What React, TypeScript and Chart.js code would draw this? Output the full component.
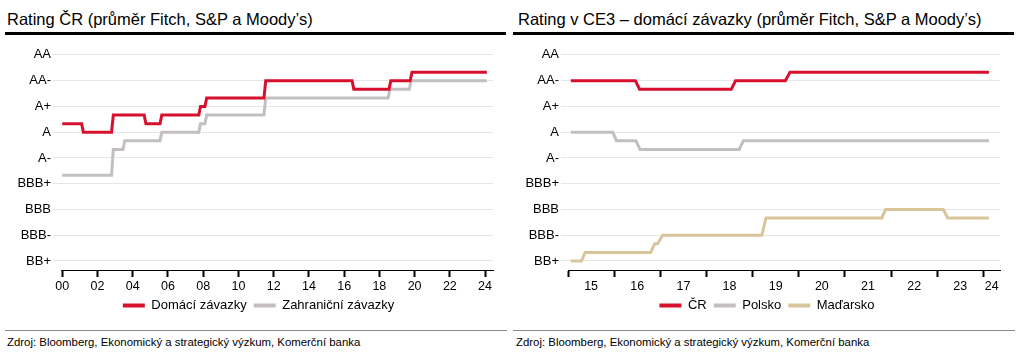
import React, { useEffect, useRef } from 'react';
import { Chart, registerables } from 'chart.js';

Chart.register(...registerables);

const FONT = '"Liberation Sans", Arial, Helvetica, sans-serif';

// Rating scale (average of Fitch, S&P and Moody's)
const ratingValues = [1, 2, 3, 4, 5, 6, 7, 8, 9];
const ratingLabels = ['BB+', 'BBB-', 'BBB', 'BBB+', 'A-', 'A', 'A+', 'AA-', 'AA'];

// Left chart: Rating ČR
const leftTickYears = [2000, 2002, 2004, 2006, 2008, 2010, 2012, 2014, 2016, 2018, 2020, 2022, 2024];
const leftTickLabels = ['00', '02', '04', '06', '08', '10', '12', '14', '16', '18', '20', '22', '24'];
const leftSeriesNames = ['Domácí závazky', 'Zahraniční závazky'];

const domaciZavazky: [number, number][] = [
  [2000.0, 6.33], [2001.1, 6.33], [2001.2, 6.0], [2002.8, 6.0], [2002.9, 6.67],
  [2004.65, 6.67], [2004.75, 6.33], [2005.55, 6.33], [2005.65, 6.67], [2007.75, 6.67],
  [2007.85, 7.0], [2008.1, 7.0], [2008.2, 7.33], [2011.45, 7.33], [2011.55, 8.0],
  [2016.45, 8.0], [2016.55, 7.67], [2018.55, 7.67], [2018.65, 8.0], [2019.75, 8.0],
  [2019.85, 8.33], [2024.1, 8.33],
];

const zahranicniZavazky: [number, number][] = [
  [2000.0, 4.33], [2002.8, 4.33], [2002.9, 5.33], [2003.45, 5.33], [2003.55, 5.67],
  [2005.55, 5.67], [2005.65, 6.0], [2007.75, 6.0], [2007.85, 6.33], [2008.1, 6.33],
  [2008.2, 6.67], [2011.45, 6.67], [2011.55, 7.33], [2018.5, 7.33], [2018.6, 7.67],
  [2019.7, 7.67], [2019.8, 8.0], [2024.1, 8.0],
];

// Right chart: Rating v CE3 – domácí závazky
const rightYears = [2015, 2016, 2017, 2018, 2019, 2020, 2021, 2022, 2023, 2024];
const rightTickLabels = ['15', '16', '17', '18', '19', '20', '21', '22', '23', '24'];
const rightSeriesNames = ['ČR', 'Polsko', 'Maďarsko'];

const crDomaci: [number, number][] = [
  [2015.06, 8.0], [2016.46, 8.0], [2016.55, 7.67], [2018.54, 7.67], [2018.63, 8.0],
  [2019.71, 8.0], [2019.81, 8.33], [2024.12, 8.33],
];

const polskoDomaci: [number, number][] = [
  [2015.06, 6.0], [2015.97, 6.0], [2016.05, 5.67], [2016.47, 5.67], [2016.56, 5.33],
  [2018.71, 5.33], [2018.8, 5.67], [2024.12, 5.67],
];

const madarskoDomaci: [number, number][] = [
  [2015.06, 1.0], [2015.29, 1.0], [2015.37, 1.33], [2016.79, 1.33], [2016.88, 1.67],
  [2016.94, 1.67], [2017.05, 2.0], [2019.2, 2.0], [2019.29, 2.67], [2021.8, 2.67],
  [2021.88, 3.0], [2023.13, 3.0], [2023.23, 2.67], [2024.12, 2.67],
];

const RED = '#d7102d';
const GRAY = '#c3bfbf';
const TAN = '#d9c59b';
const GRID = '#e6e6e6';

type Series = { name: string; data: [number, number][]; color: string };

type PanelCfg = {
  series: Series[];
  xMin: number;
  xMax: number;
  yAxisWidth: number;
  yTickLength: number;
  padRight: number;
  legendShift: number;
  buildXTicks: (axis: any) => void;
};

function makeConfig(cfg: PanelCfg): any {
  return {
    type: 'line',
    data: {
      datasets: cfg.series.map((s) => ({
        label: s.name,
        data: s.data.map(([x, y]) => ({ x, y })),
        borderColor: s.color,
        backgroundColor: s.color,
        borderWidth: 3,
        pointRadius: 0,
        tension: 0,
        fill: false,
      })),
    },
    plugins: [
      {
        id: 'legendShift',
        afterLayout: (chart: any) => {
          if (chart.legend) {
            chart.legend.left += cfg.legendShift;
            chart.legend.right += cfg.legendShift;
          }
        },
      },
    ],
    options: {
      responsive: false,
      animation: false,
      devicePixelRatio: 1,
      layout: { padding: { top: 10, right: cfg.padRight, bottom: 1, left: 0 } },
      plugins: {
        tooltip: { enabled: false },
        title: { display: false },
        legend: {
          display: true,
          position: 'bottom',
          labels: {
            boxWidth: 22,
            boxHeight: 4,
            padding: 7,
            color: '#000',
            font: { family: FONT, size: 13 },
            generateLabels: (chart: any) =>
              chart.data.datasets.map((d: any, i: number) => ({
                text: d.label,
                fillStyle: d.borderColor,
                strokeStyle: d.borderColor,
                lineWidth: 0,
                hidden: false,
                datasetIndex: i,
                fontColor: '#000',
              })),
          },
        },
      },
      scales: {
        x: {
          type: 'linear',
          min: cfg.xMin,
          max: cfg.xMax,
          afterBuildTicks: cfg.buildXTicks,
          afterFit: (axis: any) => {
            axis.height = 22;
          },
          border: { display: true, color: '#000', width: 1 },
          grid: {
            display: true,
            drawOnChartArea: false,
            drawTicks: true,
            tickLength: 7,
            tickWidth: 2,
            tickColor: (ctx: any) =>
              ctx.tick && ctx.tick.mark === false ? 'rgba(0,0,0,0)' : '#000',
          },
          ticks: {
            autoSkip: false,
            maxRotation: 0,
            minRotation: 0,
            padding: 2,
            color: '#000',
            font: { family: FONT, size: 12.5 },
            callback: (_v: any, i: number, ticks: any[]) => (ticks[i] && ticks[i].lab) || '',
          },
        },
        y: {
          type: 'linear',
          min: 0.65,
          max: 9.19,
          afterBuildTicks: (axis: any) => {
            axis.ticks = ratingValues.map((v) => ({ value: v }));
          },
          afterFit: (axis: any) => {
            axis.width = cfg.yAxisWidth;
          },
          border: { display: false },
          grid: {
            color: GRID,
            lineWidth: 1,
            drawTicks: true,
            tickLength: cfg.yTickLength,
            tickColor: GRID,
          },
          ticks: {
            padding: 2,
            color: '#000',
            font: { family: FONT, size: 13 },
            callback: (v: any) => {
              const i = ratingValues.indexOf(Number(v));
              return i >= 0 ? ratingLabels[i] : '';
            },
          },
        },
      },
    },
  };
}

const leftCfg: PanelCfg = {
  series: [
    { name: leftSeriesNames[0], data: domaciZavazky, color: RED },
    { name: leftSeriesNames[1], data: zahranicniZavazky, color: GRAY },
  ],
  xMin: 1999.93,
  xMax: 2024.45,
  yAxisWidth: 61,
  yTickLength: 8,
  padRight: 14,
  legendShift: 12,
  buildXTicks: (axis: any) => {
    axis.ticks = leftTickYears.map((y, i) => ({ value: y, lab: leftTickLabels[i], mark: true }));
  },
};

const rightCfg: PanelCfg = {
  series: [
    { name: rightSeriesNames[0], data: crDomaci, color: RED },
    { name: rightSeriesNames[1], data: polskoDomaci, color: GRAY },
    { name: rightSeriesNames[2], data: madarskoDomaci, color: TAN },
  ],
  xMin: 2015,
  xMax: 2024.36,
  yAxisWidth: 56,
  yTickLength: 7,
  padRight: 24,
  legendShift: 11,
  buildXTicks: (axis: any) => {
    const ticks: any[] = [];
    rightYears.forEach((y, i) => {
      ticks.push({ value: y, lab: '', mark: true });
      const next = i < rightYears.length - 1 ? rightYears[i + 1] : axis.max;
      ticks.push({ value: (y + next) / 2, lab: rightTickLabels[i], mark: false });
    });
    axis.ticks = ticks;
  },
};

function ChartCanvas({ cfg, width, height }: { cfg: PanelCfg; width: number; height: number }) {
  const ref = useRef<HTMLCanvasElement | null>(null);
  useEffect(() => {
    if (!ref.current) return;
    const chart = new Chart(ref.current, makeConfig(cfg));
    return () => chart.destroy();
  }, [cfg]);
  return <canvas ref={ref} width={width} height={height} style={{ width, height, display: 'block' }} />;
}

const titleStyle: React.CSSProperties = {
  position: 'absolute',
  top: 9,
  fontSize: 16.5,
  lineHeight: '20px',
  whiteSpace: 'nowrap',
  color: '#000',
};

const footStyle: React.CSSProperties = {
  position: 'absolute',
  top: 336,
  fontSize: 11.4,
  lineHeight: '13px',
  whiteSpace: 'nowrap',
  color: '#000',
};

export default function App() {
  return (
    <div
      style={{
        position: 'fixed',
        left: 0,
        top: 0,
        width: 1024,
        height: 356,
        background: '#fff',
        fontFamily: FONT,
        overflow: 'hidden',
      }}
    >
      <div style={{ ...titleStyle, left: 7 }}>Rating ČR (průměr Fitch, S&amp;P a Moody’s)</div>
      <div style={{ ...titleStyle, left: 518 }}>
        Rating v CE3 – domácí závazky (průměr Fitch, S&amp;P a Moody’s)
      </div>
      <div style={{ position: 'absolute', left: 5, top: 32, width: 501, height: 3, background: '#000' }} />
      <div style={{ position: 'absolute', left: 513, top: 32, width: 501, height: 3, background: '#000' }} />

      <div style={{ position: 'absolute', left: 0, top: 40 }}>
        <ChartCanvas cfg={leftCfg} width={507} height={283} />
      </div>
      <div style={{ position: 'absolute', left: 512, top: 40 }}>
        <ChartCanvas cfg={rightCfg} width={512} height={283} />
      </div>

      <div style={{ position: 'absolute', left: 5, top: 330, width: 502, height: 1, background: '#8a8a8a' }} />
      <div style={{ position: 'absolute', left: 513, top: 330, width: 502, height: 1, background: '#8a8a8a' }} />
      <div style={{ ...footStyle, left: 7 }}>
        Zdroj: Bloomberg, Ekonomický a strategický výzkum, Komerční banka
      </div>
      <div style={{ ...footStyle, left: 516 }}>
        Zdroj: Bloomberg, Ekonomický a strategický výzkum, Komerční banka
      </div>
    </div>
  );
}
